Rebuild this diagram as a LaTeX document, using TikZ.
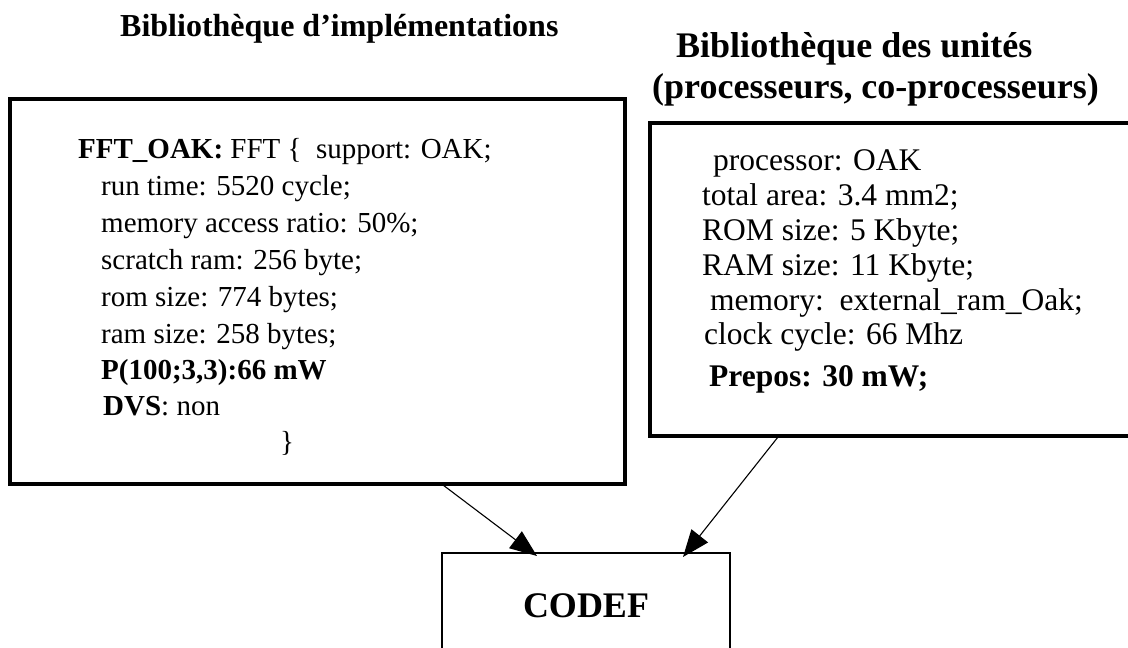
\documentclass[tikz,border=0pt]{standalone}
\usepackage{fontspec}
\setmainfont{Liberation Serif}
\usetikzlibrary{arrows.meta}
\begin{document}
\begin{tikzpicture}[x=1pt,y=-1pt,
  bigbox/.style={draw, line width=4pt, inner sep=0pt, outer sep=0pt, anchor=north west},
  codefbox/.style={draw, line width=2.8pt, inner sep=0pt, outer sep=0pt, anchor=north west},
  title/.style={anchor=base west, inner sep=0pt, font=\fontsize{32}{38}\selectfont\bfseries},
  titleb/.style={anchor=base west, inner sep=0pt, font=\fontsize{36}{42}\selectfont\bfseries},
  ltxt/.style={anchor=base west, inner sep=0pt, font=\fontsize{29}{35}\selectfont},
  rtxt/.style={anchor=base west, inner sep=0pt, font=\fontsize{31.5}{37}\selectfont},
  arr/.style={line width=1.1pt, -{Triangle[length=27pt,width=21pt]}}]
\useasboundingbox (0,0) rectangle (1128,648);
\clip (0,0) rectangle (1128,648);
% titles
\node[title] (t1) at (120,36) {Bibliothèque d’implémentations};
\node[titleb] (t2) at (676,57) {Bibliothèque des unités};
\node[titleb] (t3) at (652,98) {(processeurs, co-processeurs)};
% boxes
\node[bigbox, minimum width=615pt, minimum height=385pt] (impl) at (10,99) {};
\node[bigbox, minimum width=500pt, minimum height=313pt] (units) at (650,123) {};
\node[codefbox, minimum width=288pt, minimum height=104pt] (codef) at (442,553) {};
\node[anchor=base, inner sep=0pt, font=\fontsize{36}{40}\selectfont\bfseries] (codeft) at (586,617) {CODEF};
% left box text
\node[ltxt] (l1) at (78,158) {\textbf{FFT\_OAK:} FFT \{\ \ support: OAK;};
\node[ltxt] (l2) at (101,195) {run time: 5520 cycle;};
\node[ltxt] (l3) at (101,232) {memory access ratio: 50\%;};
\node[ltxt] (l4) at (101,269) {scratch ram: 256 byte;};
\node[ltxt] (l5) at (101,306) {rom size: 774 bytes;};
\node[ltxt] (l6) at (101,343) {ram size: 258 bytes;};
\node[ltxt] (l7) at (101,379) {\textbf{P(100;3,3):66 mW}};
\node[ltxt] (l8) at (103,415) {\textbf{DVS}: non};
\node[ltxt] (l9) at (280,451) {\}};
% right box text
\node[rtxt] (r1) at (713,170) {processor: OAK};
\node[rtxt] (r2) at (702,205) {total area: 3.4 mm2;};
\node[rtxt] (r3) at (702,240) {ROM size: 5 Kbyte;};
\node[rtxt] (r4) at (702,275) {RAM size: 11 Kbyte;};
\node[rtxt] (r5) at (710,310) {memory:\ \ external\_ram\_Oak;};
\node[rtxt] (r6) at (704,344) {clock cycle: 66 Mhz};
\node[rtxt] (r7) at (709,386) {\textbf{Prepos: 30 mW;}};
% arrows
\draw[arr] ([xshift=433pt,yshift=-1pt]impl.south west) -- ([xshift=95pt,yshift=-3pt]codef.north west);
\draw[arr] ([xshift=128pt,yshift=-1pt]units.south west) -- ([xshift=241pt,yshift=-4pt]codef.north west);
\end{tikzpicture}
\end{document}
